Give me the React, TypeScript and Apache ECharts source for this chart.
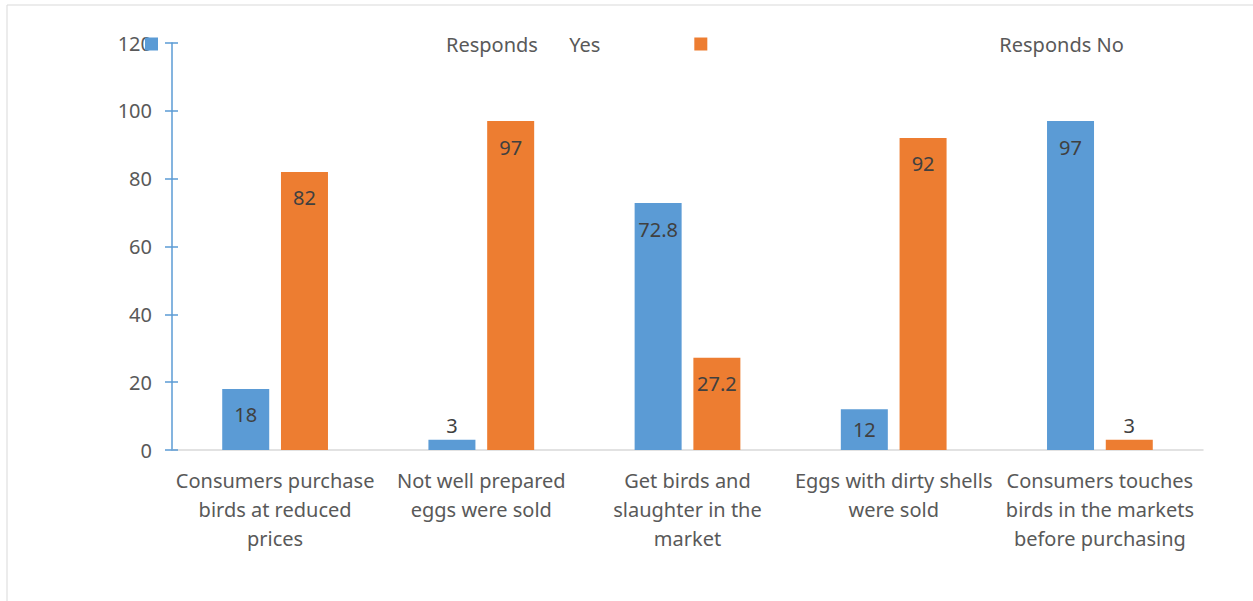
import React, { useEffect, useRef } from "react";
import * as echarts from "echarts";

const categories = [
  "Consumers purchase\nbirds at reduced\nprices",
  "Not well prepared\neggs were sold",
  "Get birds and\nslaughter in the\nmarket",
  "Eggs with dirty shells\nwere sold",
  "Consumers touches\nbirds in the markets\nbefore purchasing",
];
const yesValues = [18, 3, 72.8, 12, 97];
const noValues = [82, 97, 27.2, 92, 3];
const seriesNames = ["Responds      Yes", "Responds No"];

const FONT = "Noto Sans";
const TEXT = "#595959";
const LABEL = "#404040";
const FS = 20;

function labelFor(v: number) {
  if (v < 8) return { position: "top", distance: 4 };
  if (v < 15) return { position: "inside" };
  return { position: "insideTop", distance: 16 };
}

export default function App() {
  const ref = useRef<HTMLDivElement>(null);
  useEffect(() => {
    document.body.style.margin = "0";
    const chart = echarts.init(ref.current!, undefined, { renderer: "svg" });
    const mk = (vals: number[]) =>
      vals.map((v) => ({ value: v, label: labelFor(v) }));
    chart.setOption({
      animation: false,
      textStyle: { fontFamily: FONT },
      graphic: [
        {
          type: "rect",
          shape: { x: 7, y: 5, width: 1250, height: 600 },
          style: { fill: "none", stroke: "#D9D9D9", lineWidth: 1 },
          silent: true,
        },
      ],
      legend: {
        top: 29,
        left: 140,
        itemWidth: 13,
        itemHeight: 13,
        itemGap: 94,
        icon: "rect",
        textStyle: {
          color: TEXT,
          fontSize: FS,
          fontFamily: FONT,
        },
        data: [
          { name: seriesNames[0], textStyle: { padding: [0, 0, 0, 283] } },
          { name: seriesNames[1], textStyle: { padding: [0, 0, 0, 287] } },
        ],
      },
      grid: { left: 172, right: 50, top: 43, bottom: 151, containLabel: false },
      xAxis: {
        type: "category",
        data: categories,
        axisLine: { lineStyle: { color: "#D9D9D9", width: 1.5 } },
        axisTick: { show: false },
        axisLabel: {
          color: TEXT,
          fontSize: FS,
          lineHeight: 29,
          margin: 16,
          interval: 0,
          fontFamily: FONT,
        },
      },
      yAxis: [
        {
          type: "value",
          min: 0,
          max: 120,
          interval: 20,
          axisLine: { show: true, lineStyle: { color: "#5B9BD5", width: 1.5 } },
          axisTick: { show: true, length: 7, lineStyle: { color: "#5B9BD5", width: 1.5 } },
          splitLine: { show: false },
          axisLabel: { color: TEXT, fontSize: FS, margin: 20, fontFamily: FONT },
        },
        {
          type: "value",
          position: "left",
          min: 0,
          max: 120,
          interval: 20,
          axisLine: { show: false },
          axisTick: { show: true, inside: true, length: 6, lineStyle: { color: "#5B9BD5", width: 1.5 } },
          splitLine: { show: false },
          axisLabel: { show: false },
        },
      ],
      series: [
        {
          name: seriesNames[0],
          type: "bar",
          data: mk(yesValues),
          barWidth: 47,
          barGap: "25%",
          itemStyle: { color: "#5B9BD5" },
          label: { show: true, color: LABEL, fontSize: FS, fontFamily: FONT },
        },
        {
          name: seriesNames[1],
          type: "bar",
          data: mk(noValues),
          barWidth: 47,
          barGap: "25%",
          itemStyle: { color: "#ED7D31" },
          label: { show: true, color: LABEL, fontSize: FS, fontFamily: FONT },
        },
      ],
    });
    return () => chart.dispose();
  }, []);
  return <div ref={ref} style={{ width: 1253, height: 601 }} />;
}
